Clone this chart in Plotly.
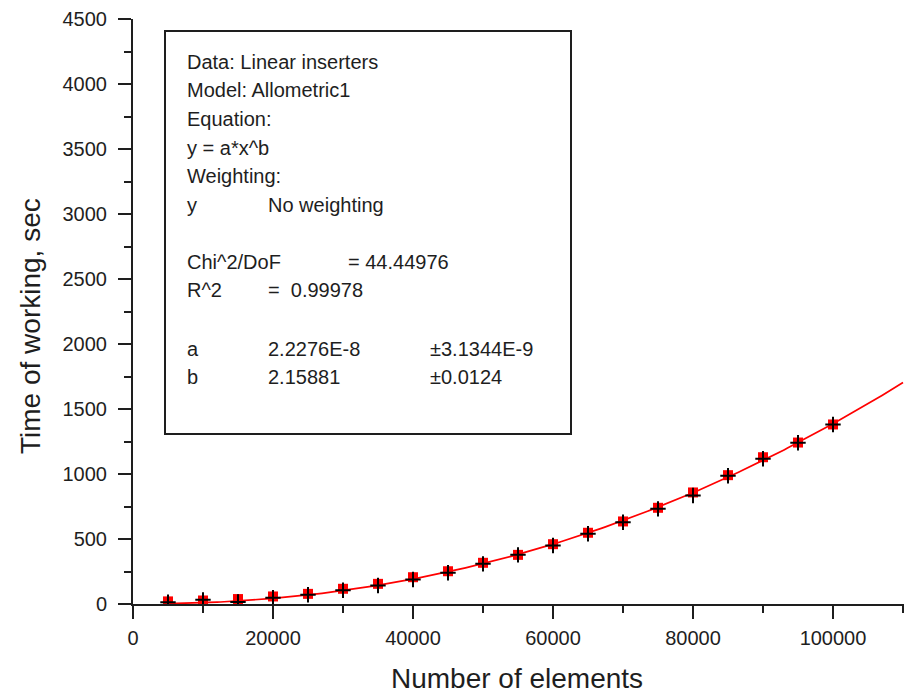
import plotly.graph_objects as go

# Number of elements at each measurement
n_elements = [5000, 10000, 15000, 20000, 25000, 30000, 35000, 40000, 45000, 50000,
              55000, 60000, 65000, 70000, 75000, 80000, 85000, 90000, 95000, 100000]

# Running time, seconds (red squares)
time_red = [20, 27, 38, 58, 78, 117, 155, 206, 252, 317,
            378, 460, 548, 635, 740, 858, 991, 1129, 1242, 1381]

# Running time, seconds (black crosses)
time_black = [14, 32, 15, 48, 71, 106, 142, 188, 240, 309,
              378, 450, 540, 629, 732, 835, 986, 1117, 1240, 1381]

# Allometric1 fit parameters: y = a * x^b
fit_a = 2.2276e-8
fit_b = 2.15881
fit_x = [5000 + 500 * i for i in range(211)]
fit_y = [fit_a * x ** fit_b for x in fit_x]

y_ticks = [0, 500, 1000, 1500, 2000, 2500, 3000, 3500, 4000, 4500]
x_ticks = [0, 20000, 40000, 60000, 80000, 100000]

# Fit report rows: (column x in px, row y in px, text)
report_rows = [
    (185, 62, "Data: Linear inserters"),
    (185, 90, "Model: Allometric1"),
    (185, 119, "Equation:"),
    (185, 148, "y = a*x^b"),
    (185, 176, "Weighting:"),
    (185, 205, "y"),
    (266, 205, "No weighting"),
    (185, 262, "Chi^2/DoF"),
    (346, 262, "= 44.44976"),
    (185, 290, "R^2"),
    (266, 290, "=  0.99978"),
    (185, 349, "a"),
    (266, 349, "2.2276E-8"),
    (428, 349, "\u00b13.1344E-9"),
    (185, 377, "b"),
    (266, 377, "2.15881"),
    (428, 377, "\u00b10.0124"),
]

FONT = "Arial, Liberation Sans, sans-serif"
INK = "#1e1e1e"

# plot area in pixels
L, T, W, H = 133, 19, 771, 585


def px(x):
    return (x - L) / W


def py(y):
    return (T + H - y) / H


fig = go.Figure()

fig.add_trace(go.Scatter(
    x=fit_x, y=fit_y, mode="lines",
    line=dict(color="#ff0000", width=1.7),
    hoverinfo="skip", showlegend=False,
))
fig.add_trace(go.Scatter(
    x=n_elements, y=time_red, mode="markers",
    marker=dict(symbol="square", size=10, color="#ff0000"),
    showlegend=False,
))
fig.add_trace(go.Scatter(
    x=n_elements, y=time_black, mode="markers",
    marker=dict(symbol="cross-thin", size=11, color="#000000",
                line=dict(color="#000000", width=2)),
    showlegend=False,
))

annotations = []
for x, y, text in report_rows:
    annotations.append(dict(
        x=px(x), y=py(y), xref="paper", yref="paper",
        xanchor="left", yanchor="middle", showarrow=False,
        text=text, font=dict(family=FONT, size=20, color=INK),
    ))

annotations.append(dict(
    x=px(30), y=py(326), xref="paper", yref="paper",
    xanchor="center", yanchor="middle", showarrow=False, textangle=-90,
    text="Time of working, sec", font=dict(family=FONT, size=28, color=INK),
))
annotations.append(dict(
    x=px(517), y=py(678), xref="paper", yref="paper",
    xanchor="center", yanchor="middle", showarrow=False,
    text="Number of elements", font=dict(family=FONT, size=28, color=INK),
))

fig.update_layout(
    width=904, height=693,
    margin=dict(l=L, r=0, t=T, b=693 - T - H),
    paper_bgcolor="white", plot_bgcolor="white",
    annotations=annotations,
    shapes=[dict(
        type="rect", xref="paper", yref="paper",
        x0=px(165), x1=px(571), y0=py(434), y1=py(31),
        line=dict(color=INK, width=2), fillcolor="rgba(0,0,0,0)",
    )],
)

fig.update_xaxes(
    range=[0, 110143], tickvals=x_ticks, ticktext=[str(v) for v in x_ticks],
    showline=True, linecolor=INK, linewidth=2,
    ticks="outside", ticklen=13, tickwidth=2, tickcolor=INK,
    minor=dict(dtick=10000, ticks="outside", ticklen=7, tickwidth=2,
               tickcolor=INK, showgrid=False),
    showgrid=False, zeroline=False, ticklabelstandoff=2,
    tickfont=dict(family=FONT, size=20, color=INK),
)
fig.update_yaxes(
    range=[0, 4500], tickvals=y_ticks, ticktext=[str(v) for v in y_ticks],
    showline=True, linecolor=INK, linewidth=2,
    ticks="outside", ticklen=13, tickwidth=2, tickcolor=INK,
    minor=dict(dtick=250, ticks="outside", ticklen=7, tickwidth=2,
               tickcolor=INK, showgrid=False),
    showgrid=False, zeroline=False, ticklabelstandoff=7,
    tickfont=dict(family=FONT, size=20, color=INK),
)

fig.write_html("out.html")
